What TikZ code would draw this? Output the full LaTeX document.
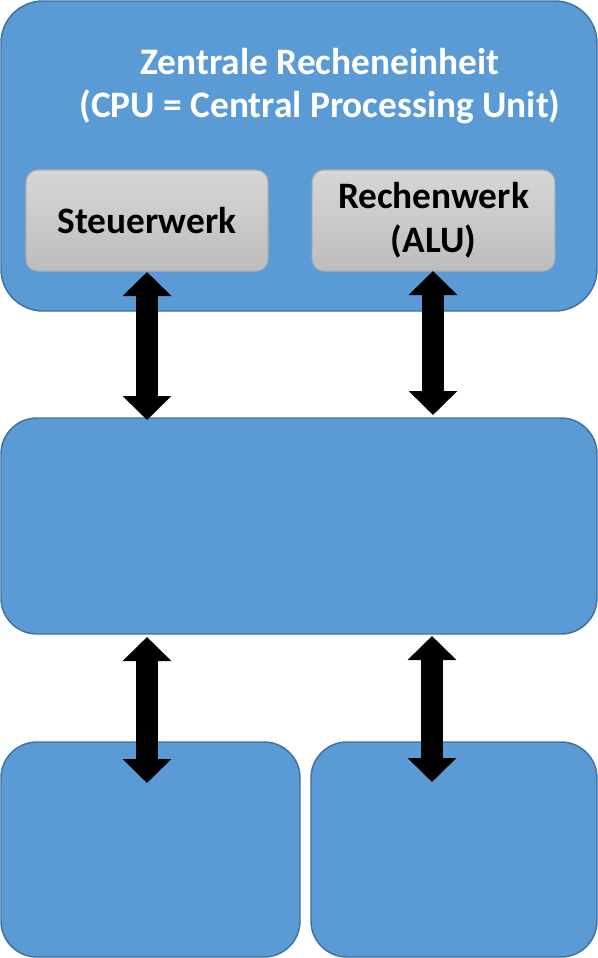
\documentclass[tikz,border=0pt]{standalone}
\usepackage{fontspec}
\setmainfont{Carlito}
\usetikzlibrary{arrows.meta}
\definecolor{boxblue}{HTML}{5B9BD5}
\definecolor{boxedge}{HTML}{41719C}
\definecolor{graytop}{HTML}{D6D6D6}
\definecolor{graybot}{HTML}{BDBDBD}
\definecolor{grayedge}{HTML}{AFAFAF}
\tikzset{
  bluebox/.style={draw=boxedge, line width=1.1pt, fill=boxblue, rounded corners=27pt, inner sep=0pt},
  graybox/.style={draw=grayedge, line width=0.8pt, top color=graytop, bottom color=graybot, rounded corners=9pt, inner sep=0pt,
    font=\fontsize{28pt}{33pt}\selectfont\bfseries, text=black, align=center},
  dblarrow/.style={line width=17pt, {Triangle[width=35.5pt,length=18pt]}-{Triangle[width=35.5pt,length=18pt]}, black}
}
\begin{document}
\begin{tikzpicture}[x=0.75pt,y=-0.75pt]
\useasboundingbox (0,0) rectangle (598,958);
\node[bluebox, rounded corners=31.5pt, minimum width=447pt, minimum height=232.5pt] (cpu) at (299,156) {};
\node[text=white, font=\fontsize{28pt}{32.3pt}\selectfont\bfseries, align=center] (title) at (320,86)
  {Zentrale Recheneinheit\\(CPU = Central Processing Unit)};
\node[graybox, minimum width=181.5pt, minimum height=75.75pt] (stw) at (147,220.5) {Steuerwerk};
\node[graybox, minimum width=182pt, minimum height=75.75pt] (alu) at (433.5,220.5) {\raisebox{-1.5pt}{\parbox{150pt}{\centering Rechenwerk\\(ALU)}}};
\node[bluebox, minimum width=447pt, minimum height=162pt] (bus) at (299,526) {};
\node[bluebox, minimum width=224.25pt, minimum height=161.25pt] (bl) at (150.5,849.5) {};
\node[bluebox, minimum width=214.5pt, minimum height=161.25pt] (br) at (454,849.5) {};
\coordinate (a1s) at (147,272);
\coordinate (a1e) at (147,420);
\coordinate (a2s) at (433,271);
\coordinate (a2e) at (433,415);
\coordinate (a3s) at (147,637);
\coordinate (a3e) at (147,783);
\coordinate (a4s) at (432,636);
\coordinate (a4e) at (432,782);
\draw[dblarrow] (a1s) -- (a1e);
\draw[dblarrow] (a2s) -- (a2e);
\draw[dblarrow] (a3s) -- (a3e);
\draw[dblarrow] (a4s) -- (a4e);
\end{tikzpicture}
\end{document}
